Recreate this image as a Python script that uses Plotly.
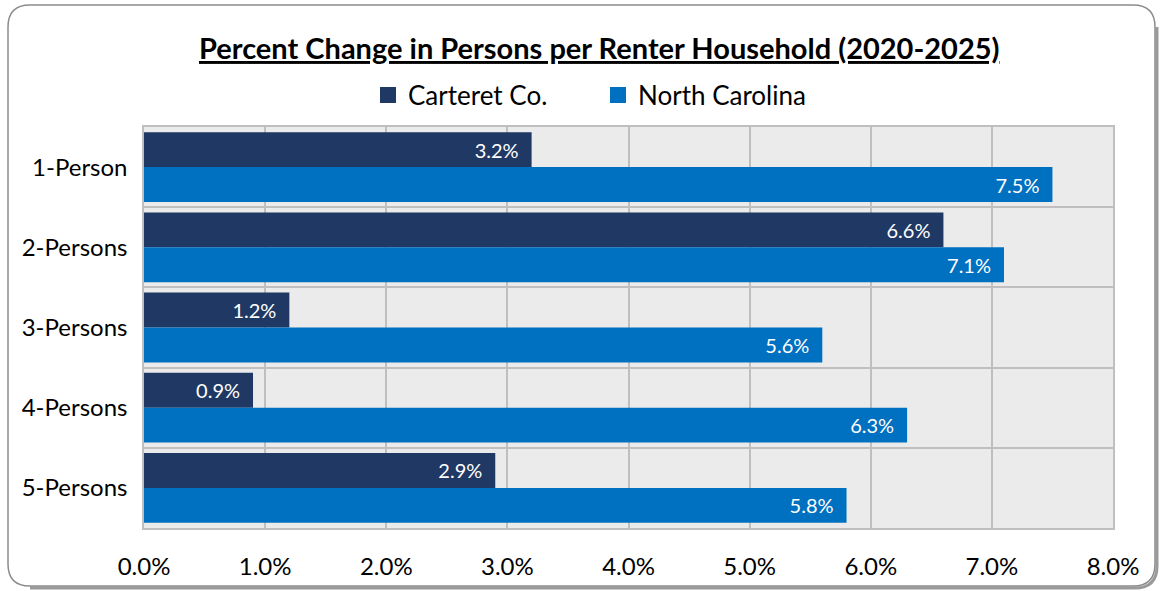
import plotly.graph_objects as go

categories = ["1-Person", "2-Persons", "3-Persons", "4-Persons", "5-Persons"]
carteret = [3.2, 6.6, 1.2, 0.9, 2.9]
north_carolina = [7.5, 7.1, 5.6, 6.3, 5.8]
series_names = ["Carteret Co.", "North Carolina"]
series_colors = ["#203864", "#0070c0"]
x_ticks = [0, 1, 2, 3, 4, 5, 6, 7, 8]
x_tick_labels = [f"{v:.1f}%" for v in x_ticks]

FONT = "Lato"
W, H = 1161, 591
L, R, T, B = 144, 48, 127, 63
pw, ph = W - L - R, H - T - B

def px(x):
    return (x - L) / pw

def py(y):
    return (H - B - y) / ph

fig = go.Figure()
for name, vals, col in zip(series_names, [carteret, north_carolina], series_colors):
    fig.add_trace(go.Bar(
        y=categories, x=vals, name=name, orientation="h", showlegend=False,
        marker=dict(color=col, line=dict(width=0)),
        text=[f"{v:.1f}%\u2002" for v in vals], textposition="inside",
        insidetextanchor="end", textangle=0,
        textfont=dict(family=FONT, size=20, color="white"),
        hoverinfo="skip",
    ))
for name, col in zip(series_names, series_colors):
    fig.add_trace(go.Scatter(
        x=[None], y=[None], mode="markers", name=name,
        marker=dict(symbol="square", size=17, color=col), hoverinfo="skip",
    ))

# rounded outer border path in paper coords
x0, x1, y0, y1, r = 8, 1155, 5, 586, 22
def P(x, y):
    return f"{px(x):.5f},{py(y):.5f}"
path = (f"M {P(x0 + r, y0)} L {P(x1 - r, y0)} Q {P(x1, y0)} {P(x1, y0 + r)} "
        f"L {P(x1, y1 - r)} Q {P(x1, y1)} {P(x1 - r, y1)} L {P(x0 + r, y1)} "
        f"Q {P(x0, y1)} {P(x0, y1 - r)} L {P(x0, y0 + r)} Q {P(x0, y0)} {P(x0 + r, y0)} Z")
shadow = (f"M {P(x1 + 2, y0 + r)} L {P(x1 + 2, y1 - r + 2)} Q {P(x1 + 2, y1 + 2)} "
          f"{P(x1 - r + 2, y1 + 2)} L {P(x0 + r, y1 + 2)}")

fig.update_layout(
    width=W, height=H,
    margin=dict(l=L, r=R, t=T, b=B),
    paper_bgcolor="white", plot_bgcolor="#ebebeb",
    barmode="group", bargap=0.13, bargroupgap=0,
    font=dict(family=FONT, color="black"),
    showlegend=True,
    legend=dict(orientation="h", x=px(598), xanchor="center", y=py(95), yanchor="middle",
                font=dict(family=FONT, size=26), itemwidth=30, traceorder="normal",
                entrywidth=185, bgcolor="rgba(0,0,0,0)"),
    xaxis=dict(range=[0, 8], tickvals=x_ticks, ticktext=x_tick_labels,
               showgrid=True, gridcolor="#bfbfbf", gridwidth=1.5,
               showline=True, linecolor="#bfbfbf", linewidth=1.5, mirror=True,
               zeroline=False, ticks="", tickfont=dict(family=FONT, size=24),
               ticklabelstandoff=16, fixedrange=True),
    yaxis=dict(type="category", autorange="reversed", tickson="boundaries",
               showgrid=True, gridcolor="#bfbfbf", gridwidth=1.5,
               showline=True, linecolor="#bfbfbf", linewidth=1.5, mirror=True,
               ticks="", tickfont=dict(family=FONT, size=24), ticklabelstandoff=10,
               fixedrange=True),
    annotations=[dict(text="<b><u>Percent Change in Persons per Renter Household (2020-2025)</u></b>",
                      x=px(599), y=py(47), xref="paper", yref="paper", showarrow=False,
                      xanchor="center", yanchor="middle",
                      font=dict(family=FONT, size=29, color="black"))],
    shapes=[
        dict(type="path", path=shadow, xref="paper", yref="paper",
             line=dict(color="#9a9a9a", width=3), layer="below"),
        dict(type="path", path=path, xref="paper", yref="paper",
             line=dict(color="#8c8c8c", width=1.5), fillcolor="rgba(0,0,0,0)", layer="below"),
    ],
)

fig.write_html("out.html", config={"displayModeBar": False},
               post_script="document.body.style.margin='0';document.body.style.overflow='hidden';")
